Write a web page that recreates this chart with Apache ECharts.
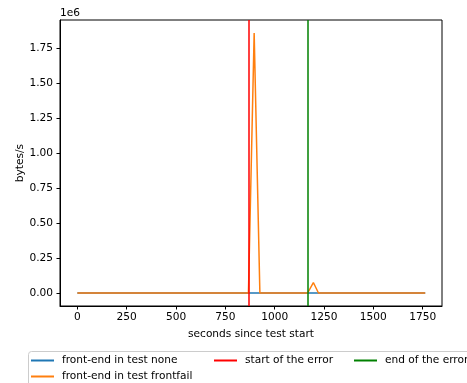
<!DOCTYPE html>
<html>
<head>
<meta charset="utf-8">
<script src="https://cdn.jsdelivr.net/npm/echarts@6/dist/echarts.min.js"></script>
<style>
  html, body { margin: 0; padding: 0; background: #fff; }
  #chart { width: 467px; height: 383px; }
</style>
</head>
<body>
<div id="chart"></div>
<script>
// ---- data ----
const timeSec        = [0, 867, 896, 925, 1167, 1196, 1222, 1763];
const noneBytes      = [0, 0, 0, 0, 0, 0, 0, 0];
const frontfailBytes = [0, 0, 1860000, 0, 0, 75000, 0, 0];
const errorStart = 867;
const errorEnd = 1167;
const xTicks = [0, 250, 500, 750, 1000, 1250, 1500, 1750];
const yTicks = [0, 250000, 500000, 750000, 1000000, 1250000, 1500000, 1750000];
const seriesNames = ['front-end in test none', 'front-end in test frontfail', 'start of the error', 'end of the error'];

const FONT = 'DejaVu Sans';
const FS = 10.6;
const pairs = (xs, ys) => xs.map((x, i) => [x, ys[i]]);

const chart = echarts.init(document.getElementById('chart'), null, { renderer: 'canvas' });
const legendCommon = {
  orient: 'vertical',
  icon: 'rect',
  itemWidth: 23,
  itemHeight: 2,
  itemGap: 5,
  padding: 0,
  textStyle: { fontFamily: FONT, fontSize: FS, color: '#000', padding: [0, 0, 0, 3] },
  selectedMode: false
};
chart.setOption({
  animation: false,
  grid: { left: 60, right: 25, top: 20, bottom: 77, show: true, borderColor: '#000', borderWidth: 1, backgroundColor: 'transparent' },
  xAxis: {
    type: 'value', min: -88, max: 1848,
    name: 'seconds since test start', nameLocation: 'middle', nameGap: 23, nameMoveOverlap: false,
    nameTextStyle: { fontFamily: FONT, fontSize: FS, color: '#000' },
    axisLine: { show: true, onZero: false, lineStyle: { color: '#000', width: 1 } },
    axisTick: { show: true, inside: false, length: 3.5, lineStyle: { color: '#000' }, customValues: xTicks },
    axisLabel: { fontFamily: FONT, fontSize: FS, color: '#000', margin: 6, customValues: xTicks,
      formatter: v => String(v) },
    splitLine: { show: false }
  },
  yAxis: {
    type: 'value', min: -93000, max: 1953000,
    name: 'bytes/s', nameLocation: 'middle', nameGap: 34, nameRotate: 90, nameMoveOverlap: false,
    nameTextStyle: { fontFamily: FONT, fontSize: FS, color: '#000' },
    axisLine: { show: true, onZero: false, lineStyle: { color: '#000', width: 1 } },
    axisTick: { show: true, inside: false, length: 3.5, lineStyle: { color: '#000' }, customValues: yTicks },
    axisLabel: { fontFamily: FONT, fontSize: FS, color: '#000', margin: 7, customValues: yTicks,
      formatter: v => (v / 1e6).toFixed(2) },
    splitLine: { show: false }
  },
  legend: [
    Object.assign({}, legendCommon, { data: [seriesNames[0], seriesNames[1]], left: 31, top: 355 }),
    Object.assign({}, legendCommon, { data: [seriesNames[2]], left: 214, top: 355 }),
    Object.assign({}, legendCommon, { data: [seriesNames[3]], left: 354, top: 355 })
  ],
  graphic: [
    { type: 'rect', left: 28, top: 351, z: -1, silent: true,
      shape: { width: 460, height: 40, r: 3 },
      style: { fill: '#fff', stroke: '#cccccc', lineWidth: 1 } },
    { type: 'text', left: 60, top: 8, silent: true,
      style: { text: '1e6', font: FS + 'px "DejaVu Sans"', fill: '#000' } }
  ],
  series: [
    { name: seriesNames[0], type: 'line', data: pairs(timeSec, noneBytes), showSymbol: false,
      lineStyle: { color: '#1f77b4', width: 1.5 }, itemStyle: { color: '#1f77b4' }, z: 2 },
    { name: seriesNames[1], type: 'line', data: pairs(timeSec, frontfailBytes), showSymbol: false,
      lineStyle: { color: '#ff7f0e', width: 1.5 }, itemStyle: { color: '#ff7f0e' }, z: 3 },
    { name: seriesNames[2], type: 'line', data: [], itemStyle: { color: '#ff0000' },
      lineStyle: { color: '#ff0000' },
      markLine: { silent: true, symbol: 'none', label: { show: false },
        lineStyle: { color: '#ff0000', width: 1.5, type: 'solid' },
        data: [{ xAxis: errorStart }] }, z: 4 },
    { name: seriesNames[3], type: 'line', data: [], itemStyle: { color: '#008000' },
      lineStyle: { color: '#008000' },
      markLine: { silent: true, symbol: 'none', label: { show: false },
        lineStyle: { color: '#008000', width: 1.5, type: 'solid' },
        data: [{ xAxis: errorEnd }] }, z: 5 }
  ]
});
</script>
</body>
</html>
